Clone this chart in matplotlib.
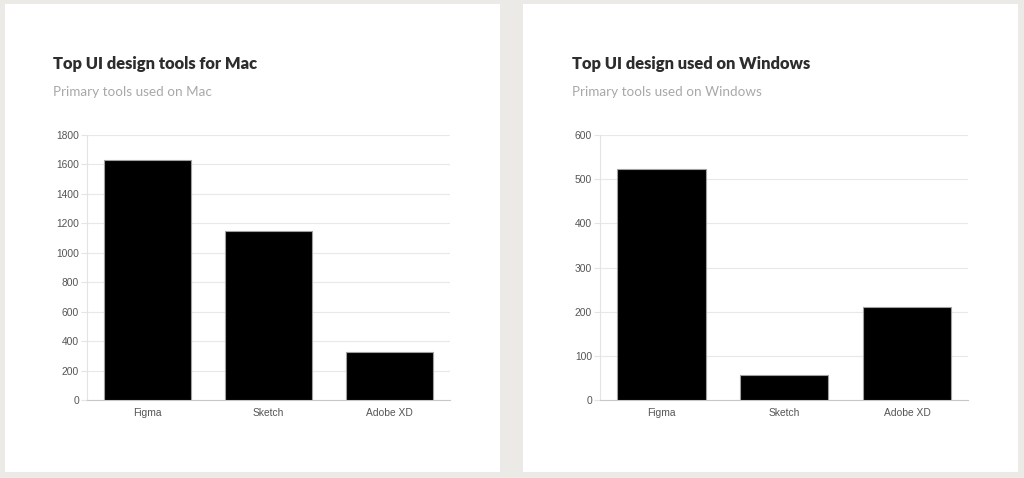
import matplotlib
matplotlib.use("Agg")
import matplotlib.pyplot as plt
from matplotlib.patches import Rectangle

categories = ["Figma", "Sketch", "Adobe XD"]
mac_values = [1630, 1148, 325]
win_values = [522, 57, 210]

titles = ["Top UI design tools for Mac", "Top UI design used on Windows"]
subtitles = ["Primary tools used on Mac", "Primary tools used on Windows"]
mac_ticks = [0, 200, 400, 600, 800, 1000, 1200, 1400, 1600, 1800]
win_ticks = [0, 100, 200, 300, 400, 500, 600]

W, H = 1024, 478
fig = plt.figure(figsize=(W / 100, H / 100), dpi=100)
fig.patch.set_facecolor("#ebeae6")

def fx(px):
    return px / W

def fy(py):
    return 1 - py / H

# background layer with white panels
bg = fig.add_axes([0, 0, 1, 1])
bg.set_zorder(0)
bg.set_xlim(0, W)
bg.set_ylim(H, 0)
bg.axis("off")
for x0, x1 in [(5, 500), (523, 1018)]:
    bg.add_patch(Rectangle((x0, 4), x1 - x0, 468, facecolor="white", edgecolor="none"))

panels = [
    (87.3, 450.0, mac_values, mac_ticks, 53),
    (600.3, 968.3, win_values, win_ticks, 572),
]

for i, (ax0, ax1, vals, ticks, tx) in enumerate(panels):
    ax = fig.add_axes([fx(ax0), fy(400), fx(ax1 - ax0), 265 / H])
    ax.set_zorder(2)
    ax.set_facecolor("none")
    xs = range(len(categories))
    ax.bar(xs, vals, width=0.72, color="black", edgecolor="#a0a0a0", linewidth=0.8, zorder=3)
    ax.set_xlim(-0.5, len(categories) - 0.5)
    ax.set_ylim(0, ticks[-1])
    ax.set_yticks(ticks)
    ax.set_yticklabels([str(t) for t in ticks])
    ax.set_xticks(list(xs))
    ax.set_xticklabels(categories)
    ax.grid(axis="y", color="#e8e8e8", linewidth=0.8, zorder=0)
    for s in ["top", "right"]:
        ax.spines[s].set_visible(False)
    ax.spines["left"].set_color("#e4e4e4")
    ax.spines["left"].set_linewidth(0.8)
    ax.spines["bottom"].set_color("#c8c8c8")
    ax.spines["bottom"].set_linewidth(0.8)
    ax.tick_params(axis="y", length=4, width=0.8, color="#e4e4e4", pad=2,
                   labelsize=7.4, labelcolor="#555555")
    ax.tick_params(axis="x", length=0, pad=6, labelsize=7.4, labelcolor="#555555")
    for lab in ax.get_xticklabels() + ax.get_yticklabels():
        lab.set_fontfamily("Liberation Sans")

    bg.text(tx, 69, titles[i], fontsize=11.9, fontweight="heavy",
            color="#2d2d2d", family="Lato", va="baseline", ha="left")
    bg.text(tx, 96, subtitles[i], fontsize=9.7,
            color="#a8a8a8", family="Lato", va="baseline", ha="left")

fig.savefig("out.png", dpi=100, facecolor=fig.get_facecolor())
